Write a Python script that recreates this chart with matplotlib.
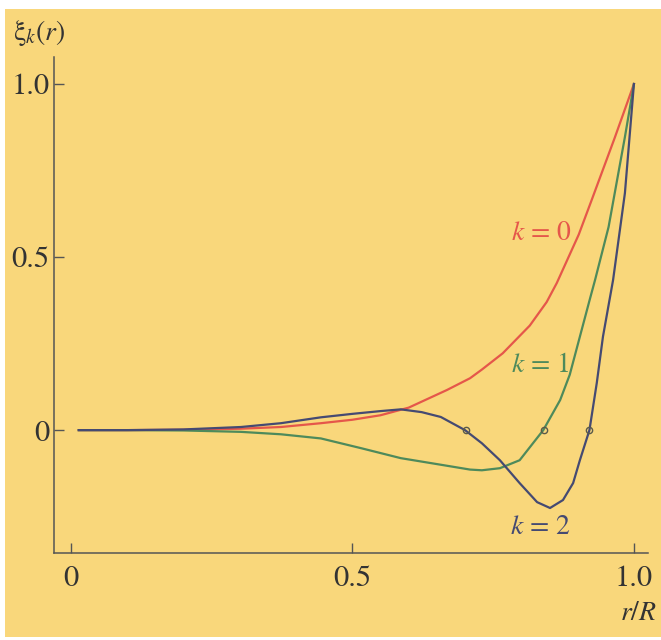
import matplotlib
matplotlib.use("Agg")
import matplotlib.pyplot as plt
from matplotlib.patches import Rectangle

# values
r_k0 = [0.014, 0.1, 0.2, 0.3, 0.373, 0.444, 0.5, 0.55, 0.6, 0.668, 0.709, 0.73, 0.767, 0.815, 0.845, 0.863,
        0.902, 0.925, 0.966, 1.0]
xi_k0 = [0, 0, 0.001, 0.004, 0.009, 0.02, 0.03, 0.043, 0.065, 0.116, 0.15, 0.175, 0.222, 0.302, 0.37, 0.425,
         0.565, 0.665, 0.845, 1.0]

r_k1 = [0.014, 0.1, 0.2, 0.302, 0.373, 0.444, 0.515, 0.586, 0.657, 0.709, 0.73, 0.762, 0.797, 0.839, 0.869,
        0.886, 0.904, 0.922, 0.931, 0.955, 0.984, 1.0]
xi_k1 = [0, 0, -0.001, -0.005, -0.012, -0.024, -0.052, -0.081, -0.10, -0.114, -0.116, -0.11, -0.087, 0, 0.087,
         0.16, 0.27, 0.38, 0.434, 0.587, 0.847, 1.0]

r_k2 = [0.014, 0.1, 0.2, 0.302, 0.373, 0.444, 0.5, 0.55, 0.586, 0.623, 0.657, 0.70, 0.73, 0.762, 0.797, 0.828,
        0.851, 0.874, 0.892, 0.904, 0.921, 0.934, 0.945, 0.963, 0.984, 1.0]
xi_k2 = [0, 0, 0.002, 0.009, 0.02, 0.037, 0.047, 0.055, 0.06, 0.052, 0.038, 0, -0.038, -0.087, -0.153, -0.208,
         -0.225, -0.202, -0.153, -0.087, 0, 0.136, 0.27, 0.434, 0.685, 1.0]

nodes_r = [0.701, 0.840, 0.921]
nodes_xi = [0, 0, 0]

x_ticks = [0, 0.5, 1.0]
x_ticklabels = ["0", "0.5", "1.0"]
y_ticks = [0, 0.5, 1.0]
y_ticklabels = ["0", "0.5", "1.0"]

labels = ["$k$ = 0", "$k$ = 1", "$k$ = 2"]
label_pos = [(0.835, 0.569), (0.833, 0.188), (0.833, -0.28)]

BG = "#F9D77B"
RED = "#E5574A"
GREEN = "#4E8A5B"
BLUE = "#454A72"
AX = "#555555"

plt.rcParams["font.family"] = ["STIXGeneral", "DejaVu Serif"]
plt.rcParams["mathtext.fontset"] = "stix"

fig = plt.figure(figsize=(6.61, 6.40), dpi=100)
fig.patch.set_facecolor("white")
fig.patches.append(Rectangle((5 / 661, 3 / 640), 656 / 661, 628 / 640,
                             transform=fig.transFigure, facecolor=BG,
                             edgecolor="none", zorder=-10))

ax = fig.add_axes([54 / 661, 87 / 640, (648 - 54) / 661, (553 - 57) / 640])
ax.set_facecolor("none")
ax.set_zorder(5)

ax.plot(r_k0, xi_k0, color=RED, lw=1.6)
ax.plot(r_k1, xi_k1, color=GREEN, lw=1.6)
ax.plot(r_k2, xi_k2, color=BLUE, lw=1.6)
ax.plot(nodes_r, nodes_xi, "o", ms=4.5, mfc="none", mec="#5a5a4a", mew=1.0)

for lab, (x, y), c in zip(labels, label_pos, [RED, GREEN, BLUE]):
    ax.text(x, y, lab, color=c, fontsize=20, ha="center", va="center")

ax.set_xlim(-0.030, 1.025)
ax.set_ylim(-0.355, 1.078)
for s in ["top", "right"]:
    ax.spines[s].set_visible(False)
for s in ["left", "bottom"]:
    ax.spines[s].set_color(AX)
    ax.spines[s].set_linewidth(1.1)

ax.set_xticks(x_ticks)
ax.set_xticklabels(x_ticklabels)
ax.set_yticks(y_ticks)
ax.set_yticklabels(y_ticklabels)
ax.tick_params(direction="in", length=7, width=1.0, color=AX,
               labelsize=22, labelcolor="#333333")
ax.tick_params(axis="y", pad=3)
ax.tick_params(axis="x", pad=9)

fig.text(39 / 661, 1 - 33 / 640, "ξ$_k$($r$)", fontsize=20, color="#333333",
         ha="center", va="center")
fig.text(638 / 661, 1 - 613 / 640, "$r$/$R$", fontsize=20, color="#333333",
         ha="center", va="center")

fig.savefig("out.png", dpi=100, facecolor=fig.get_facecolor())
